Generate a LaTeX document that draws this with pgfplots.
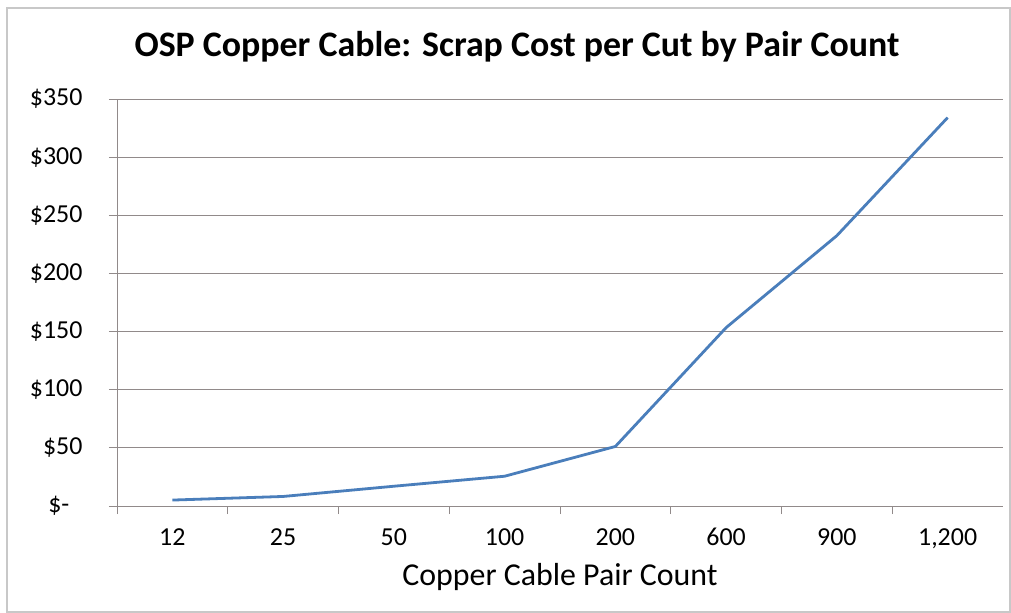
\documentclass[border=0pt]{standalone}
\usepackage{pgfplots}
\pgfplotsset{compat=1.18}
\usepackage{fontspec}
\setmainfont{Carlito}
\definecolor{linecol}{HTML}{4A7EBB}
\definecolor{gridcol}{RGB}{145,138,138}
\definecolor{bordercol}{RGB}{200,200,200}
\begin{document}
\begin{tikzpicture}
\begin{axis}[
  at={(0,0)}, anchor=south west,
  scale only axis,
  width=886bp, height=407bp,
  xmin=-0.5, xmax=7.5,
  ymin=0, ymax=350,
  axis x line*=bottom, axis y line*=left,
  axis line style={draw=gridcol, line width=0.9bp},
  xtick={-0.5,0.5,1.5,2.5,3.5,4.5,5.5,6.5},
  xticklabels={},
  extra x ticks={0,1,2,3,4,5,6,7},
  extra x tick labels={12,25,50,100,200,600,900,{1,200}},
  extra x tick style={major tick length=0pt, tick label style={yshift=-14bp}},
  ytick={0,50,100,150,200,250,300,350},
  yticklabels={\$-\hphantom{0},\$50,\$100,\$150,\$200,\$250,\$300,\$350},
  tick align=outside,
  major tick length=8bp,
  tick style={draw=gridcol, line width=0.9bp},
  ymajorgrids,
  major grid style={draw=gridcol, line width=0.9bp},
  tick label style={font=\fontsize{26}{30}\selectfont, text=black},
  xticklabel style={anchor=base, yshift=-25bp},
  yticklabel style={xshift=-23bp},
  title={OSP Copper Cable: Scrap Cost per Cut by Pair Count},
  title style={font=\bfseries\fontsize{36}{42}\selectfont, at={(axis description cs:0.5,1)}, anchor=center, xshift=-43bp, yshift=46bp},
  xlabel={Copper Cable Pair Count},
  xlabel style={font=\fontsize{32}{38}\selectfont, at={(axis description cs:0.5,0)}, anchor=center, yshift=-71bp},
  clip=false,
]
\addplot[color=linecol, line width=2.8bp, line join=round] coordinates {
  (0,5.1) (1,8.2) (2,17) (3,25.6) (4,51.2) (5,153.4) (6,232.5) (7,334)
};
\end{axis}
\draw[bordercol, line width=1.2bp] (-110bp,-106bp) rectangle (893bp,498bp);
\pgfresetboundingbox
\path (-117bp,-107bp) rectangle (894bp,506bp);
\end{tikzpicture}
\end{document}
